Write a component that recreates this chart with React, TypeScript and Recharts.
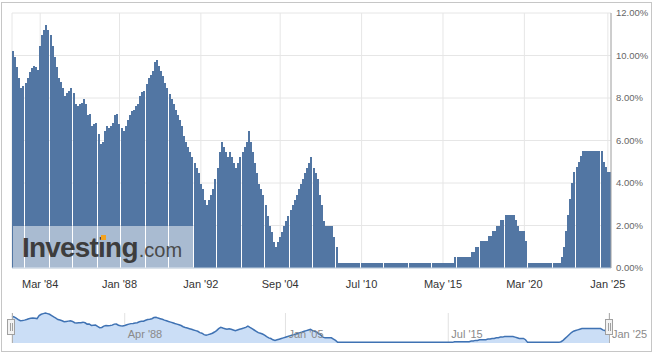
import React from 'react';
import { Area, AreaChart, Bar, BarChart, CartesianGrid, XAxis, YAxis } from 'recharts';

// rate at each decision (percent)
const rates1984to1987 = [
  10.21, 9.93, 9.46, 8.94, 8.49, 8.56, 8.72, 8.94, 9.22, 9.41, 9.5, 9.46,
  9.32, 10.45, 10.96, 11.2, 11.44, 11.2, 10.96, 10.45, 9.94, 9.46, 8.94, 8.74,
  8.47, 8.11, 8.22, 8.34, 8.47, 8.22, 7.72, 7.62, 7.72, 7.76, 7.95, 7.72,
  7.2, 7.25, 6.68, 6.78, 6.82, 6.31, 5.84, 5.93, 6.45, 6.68, 6.59,
];
const rates1987to1992 = [
  6.68, 6.82, 7.2, 7.25, 6.78, 6.59, 6.45, 6.68, 6.96, 7.2, 7.39, 7.44, 7.62,
  7.72, 8.09, 8.28, 8.33, 8.66, 8.94, 9.08, 9.27, 9.69, 9.77, 9.5, 9.27,
  9.04, 8.71, 8.47, 8.19, 7.95, 7.72, 7.44, 7.2, 6.96, 6.68, 6.21, 5.93,
  5.69, 5.46, 5.22, 4.94, 4.71, 4.47, 3.95, 3.72, 3.2, 2.98, 3.2, 3.44,
];
const rates1992to2006 = [
  3.72, 4.19, 4.71, 5.46, 5.95, 5.69, 5.46, 5.22, 5.46, 5.22, 4.96, 4.71,
  4.96, 5.22, 5.46, 5.69, 5.95, 6.47, 5.95, 5.46, 4.96, 4.47, 3.95, 3.72,
  3.44, 2.98, 2.45, 1.96, 1.71, 1.22, 0.97, 1.22, 1.46, 1.71, 1.96, 2.21,
  2.45, 2.73, 2.98, 3.2, 3.44, 3.72, 3.95, 4.19, 4.47, 4.71, 4.96, 5.22,
];
const rates2006to2008 = [4.71, 4.47, 4.19, 3.44, 2.98, 2.21, 1.96, 1.96, 1.96, 1.96, 1.46, 0.97];
const rates2008to2015 = [
  0.25, 0.25, 0.25, 0.25, 0.25, 0.25, 0.25, 0.25, 0.25, 0.25, 0.25, 0.25, 0.25, 0.25,
  0.25, 0.25, 0.25, 0.25, 0.25, 0.25, 0.25, 0.25, 0.25, 0.25, 0.25, 0.25, 0.25, 0.25,
  0.25, 0.25, 0.25, 0.25, 0.25, 0.25, 0.25, 0.25, 0.25, 0.25, 0.25, 0.25, 0.25, 0.25,
  0.25, 0.25, 0.25, 0.25, 0.25, 0.25, 0.25, 0.25, 0.25, 0.25, 0.25, 0.25, 0.25, 0.25,
];
const rates2015to2020 = [
  0.5, 0.5, 0.5, 0.5, 0.5, 0.5, 0.5, 0.5, 0.75, 0.75, 1, 1, 1.25, 1.25, 1.25, 1.25,
  1.5, 1.5, 1.75, 1.75, 2, 2, 2.25, 2.25, 2.5, 2.5, 2.5, 2.5, 2.5, 2.25, 2,
  1.75, 1.75, 1.75, 1.25,
];
const rates2020to2022 = [
  0.25, 0.25, 0.25, 0.25, 0.25, 0.25, 0.25, 0.25, 0.25, 0.25, 0.25, 0.25, 0.25, 0.25, 0.25, 0.25,
];
const rates2022to2025 = [
  0.5, 1, 1.75, 2.5, 3.25, 4, 4.5, 4.75, 5, 5.25,
  5.5, 5.5, 5.5, 5.5, 5.5, 5.5, 5.5, 5.5, 5.5, 5.5, 5, 4.75, 4.5, 4.5,
];

const tickIndices = [13, 51, 90, 128, 167, 206, 245, 285];
const tickLabels = ["Mar '84", "Jan '88", "Jan '92", "Sep '04", "Jul '10", "May '15", "Mar '20", "Jan '25"];
const yTicks = [0, 2, 4, 6, 8, 10, 12];
const navIndices = [54, 131, 209, 286];
const navLabels = ["Apr '88", "Jan '05", "Jul '15", "Jan '25"];

const rates = [
  ...rates1984to1987,
  ...rates1987to1992,
  ...rates1992to2006,
  ...rates2006to2008,
  ...rates2008to2015,
  ...rates2015to2020,
  ...rates2020to2022,
  ...rates2022to2025,
];
const data = rates.map((rate, i) => ({ i, rate }));

const FONT = "'Liberation Sans', Arial, sans-serif";
const BAR = '#5276A3';

// snap bars to whole pixels like the original renderer, which leaves a thin gap every dozen bars
function CrispBar(props: any) {
  const { x, y, width, height, fill } = props;
  if (!height) return null;
  const left = Math.round(x);
  const top = Math.round(y);
  const bottom = Math.round(y + height);
  return (
    <rect x={left} y={top} width={Math.max(1, Math.floor(width))} height={bottom - top} fill={fill} shapeRendering="crispEdges" />
  );
}

function NavTick({ x, y, payload }: any) {
  const k = navIndices.indexOf(payload.value);
  return (
    <text x={x + 3} y={y - 5} fill="#8a8a8a" fontSize={11} fontFamily={FONT}>
      {navLabels[k]}
    </text>
  );
}

export default function App() {
  return (
    <div style={{ position: 'absolute', left: 0, top: 0, width: 654, height: 354, background: '#fff', fontFamily: FONT }}>
      <div style={{ position: 'absolute', left: 0, top: 0 }}>
        <BarChart width={654} height={300} data={data} margin={{ top: 13, right: 0, bottom: 2, left: 12 }} barCategoryGap={0} barGap={0}>
          <CartesianGrid yAxisId="right" stroke="#E6E6E6" />
          <XAxis
            dataKey="i"
            type="category"
            ticks={tickIndices}
            interval={0}
            tickFormatter={(v) => tickLabels[tickIndices.indexOf(v)]}
            tick={{ fill: '#333', fontSize: 11, fontFamily: FONT }}
            tickLine={false}
            tickSize={0}
            tickMargin={12}
            height={30}
            axisLine={{ stroke: '#C0D0E0' }}
          />
          <YAxis yAxisId="left" orientation="left" width={0} domain={[0, 12]} ticks={yTicks} tick={false} tickLine={false} axisLine={{ stroke: '#A8A8A8' }} />
          <YAxis
            yAxisId="right"
            orientation="right"
            width={43}
            domain={[0, 12]}
            ticks={yTicks}
            tickFormatter={(v) => `${v.toFixed(2)}%`}
            tick={{ fill: '#666', fontSize: 9.5, fontFamily: FONT }}
            tickLine={false}
            tickSize={0}
            tickMargin={5}
            axisLine={{ stroke: '#A8A8A8' }}
          />
          <Bar yAxisId="right" dataKey="rate" fill={BAR} shape={CrispBar} isAnimationActive={false} />
        </BarChart>
      </div>

      <div style={{ position: 'absolute', left: 0, top: 0 }}>
        <AreaChart width={654} height={354} data={data} margin={{ top: 313, right: 45, bottom: 10, left: 12 }}>
          <CartesianGrid horizontal={false} stroke="#E2E2E2" />
          <XAxis
            dataKey="i"
            type="category"
            ticks={navIndices}
            interval={0}
            tick={<NavTick />}
            tickLine={false}
            tickSize={0}
            tickMargin={0}
            height={1}
            axisLine={false}
          />
          <YAxis hide domain={[0, 'dataMax']} />
          <Area type="linear" dataKey="rate" stroke="#3F72B3" strokeWidth={1.5} fill="#CBDEF6" fillOpacity={1} dot={false} isAnimationActive={false} />
        </AreaChart>
      </div>

      <svg width={654} height={354} style={{ position: 'absolute', left: 0, top: 0, pointerEvents: 'none' }}>
        <rect x={1.5} y={2.5} width={650} height={349} fill="none" stroke="#C6C6C6" />

        <rect x={13} y={226} width={180} height={42} fill="#fff" fillOpacity={0.5} />
        <text x={22} y={257} fontFamily={FONT} fill="#3d3d3d">
          <tspan fontSize={28} fontWeight="bold" letterSpacing={-0.8}>Investing</tspan>
          <tspan fontSize={20} fill="#4a4a4a" dx={1}>.com</tspan>
        </text>
        <rect x={101} y={235} width={5} height={5} fill="#F4A21E" />

        <line x1={12.5} y1={313} x2={12.5} y2={343} stroke="#B0B0B0" />
        <line x1={609.5} y1={313} x2={609.5} y2={343} stroke="#B0B0B0" />
        <rect x={7.5} y={319.5} width={7} height={15} fill="#F2F2F2" stroke="#A0A0A0" />
        <line x1={10.5} y1={323} x2={10.5} y2={331} stroke="#A0A0A0" />
        <line x1={12.5} y1={323} x2={12.5} y2={331} stroke="#A0A0A0" />
        <rect x={605.5} y={319.5} width={7} height={15} fill="#F2F2F2" stroke="#A0A0A0" />
        <line x1={608.5} y1={323} x2={608.5} y2={331} stroke="#A0A0A0" />
        <line x1={610.5} y1={323} x2={610.5} y2={331} stroke="#A0A0A0" />
      </svg>
    </div>
  );
}
